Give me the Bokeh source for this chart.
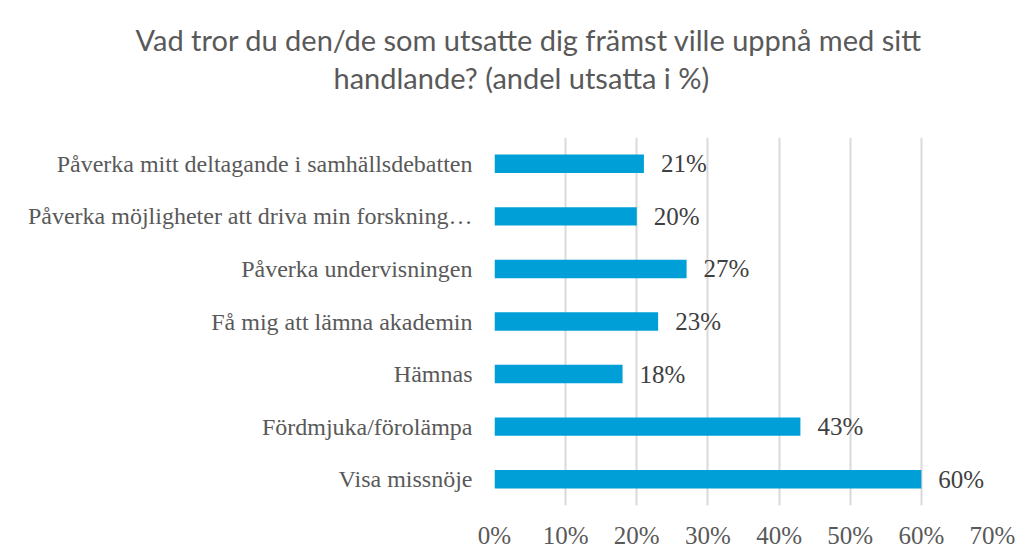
from bokeh.plotting import figure
from bokeh.models import (FactorRange, Range1d, Title, ColumnDataSource, FixedTicker,
                          CustomJSTickFormatter)
from bokeh.core.properties import value
from bokeh.embed import file_html
from bokeh.resources import INLINE

categories = [
    "Visa missnöje",
    "Fördmjuka/förolämpa",
    "Hämnas",
    "Få mig att lämna akademin",
    "Påverka undervisningen",
    "Påverka möjligheter att driva min forskning…",
    "Påverka mitt deltagande i samhällsdebatten",
]
values = [60, 43, 18, 23, 27, 20, 21]
labels = [f"{v}%" for v in values]
x_ticks = [0, 10, 20, 30, 40, 50, 60, 70]

title_line1 = "Vad tror du den/de som utsatte dig främst ville uppnå med sitt"
title_line2 = "handlande? (andel utsatta i %)"

src = ColumnDataSource(dict(cat=categories, val=values, lab=labels))

p = figure(
    y_range=FactorRange(factors=categories),
    x_range=Range1d(0, 70),
    frame_width=498, frame_height=368,
    min_border_left=494, min_border_right=24, min_border_bottom=37, min_border_top=137,
    output_backend="svg", toolbar_location=None,
)
p.outline_line_color = None
p.background_fill_color = "white"
p.border_fill_color = "white"

p.hbar(y="cat", right="val", left=0, height=0.35, source=src, color="#009fd7", line_color=None)
p.text(x="val", y="cat", text="lab", source=src, x_offset=17, text_baseline="middle",
       text_align="left", text_font=value("Liberation Serif"), text_font_size="25px",
       text_color="#404040")

p.xaxis.ticker = FixedTicker(ticks=x_ticks)
p.xaxis.formatter = CustomJSTickFormatter(code="return tick + '%';")
for ax in (p.xaxis[0], p.yaxis[0]):
    ax.axis_line_color = None
    ax.major_tick_line_color = None
    ax.minor_tick_line_color = None
    ax.major_tick_out = 0
    ax.major_tick_in = 0
    ax.major_label_text_font = "Liberation Serif"
    ax.major_label_text_color = "#595959"
p.xaxis.major_label_text_font_size = "25px"
p.yaxis.major_label_text_font_size = "24px"
p.xaxis.major_label_standoff = 16
p.yaxis.major_label_standoff = 22

p.xgrid.grid_line_color = "#d9d9d9"
p.xgrid.grid_line_width = 2
p.ygrid.grid_line_color = None

t2 = Title(text=title_line2, align="left", offset=-161, standoff=85, text_font="Lato",
           text_font_size="29px", text_font_style="normal", text_color="#595959")
t1 = Title(text=title_line1, align="left", offset=-359, standoff=-83, text_font="Lato",
           text_font_size="29px", text_font_style="normal", text_color="#595959")
p.add_layout(t2, "above")
p.add_layout(t1, "above")

open("out.html", "w").write(file_html(p, INLINE))
